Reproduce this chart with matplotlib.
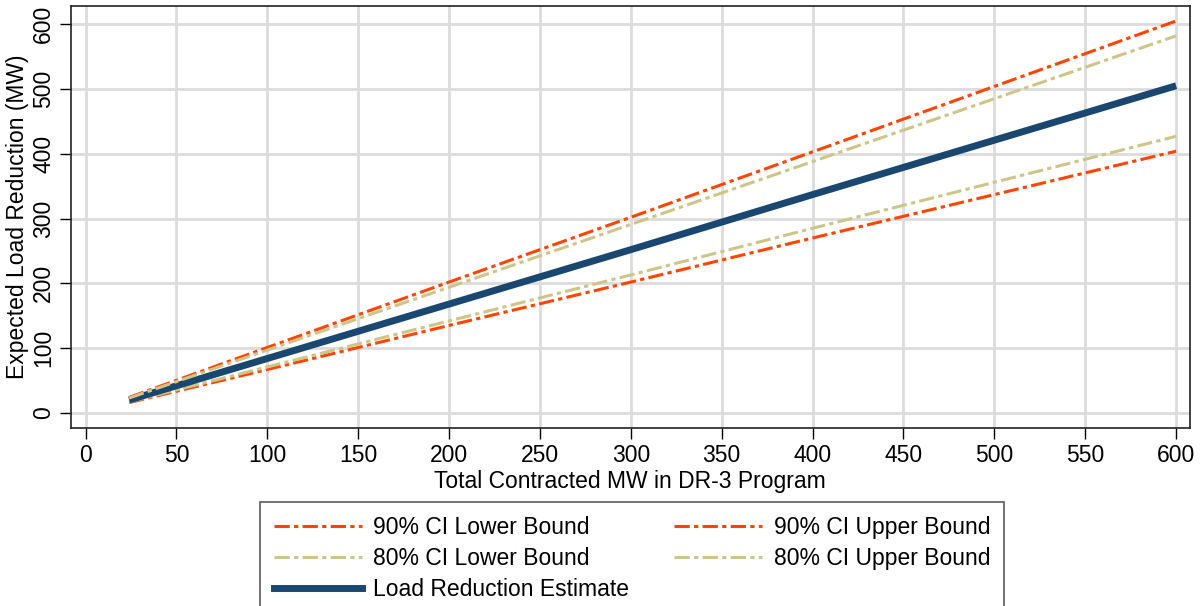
import matplotlib.pyplot as plt
from matplotlib.lines import Line2D

plt.rcParams['font.family'] = ['Liberation Sans', 'DejaVu Sans']

# total contracted MW and the expected load reduction (MW)
contracted = [24, 100, 200, 300, 400, 500, 600]
estimate = [20, 84, 168, 252, 337, 421, 505]
ci90_lower = [16, 67, 135, 202, 270, 337, 404]
ci90_upper = [24, 101, 202, 302, 403, 504, 605]
ci80_lower = [17, 71, 142, 213, 285, 356, 427]
ci80_upper = [23, 97, 194, 291, 388, 485, 582]

x_ticks = list(range(0, 601, 50))
y_ticks = list(range(0, 601, 100))

orange = '#FF4500'
khaki = '#CFC589'
navy = '#1A476F'
dashdot = (5, 1.4, 1.4, 1.4)
fs = 16.5

fig = plt.figure(figsize=(12.03, 6.06), dpi=100)
ax = fig.add_axes([0.059, 0.294, 0.930, 0.696])

ax.plot(contracted, ci90_lower, color=orange, lw=2.2, dashes=dashdot, label='90% CI Lower Bound')
ax.plot(contracted, ci80_lower, color=khaki, lw=2.2, dashes=dashdot, label='80% CI Lower Bound')
ax.plot(contracted, estimate, color=navy, lw=5, solid_capstyle='butt', label='Load Reduction Estimate')
ax.plot(contracted, ci90_upper, color=orange, lw=2.2, dashes=dashdot, label='90% CI Upper Bound')
ax.plot(contracted, ci80_upper, color=khaki, lw=2.2, dashes=dashdot, label='80% CI Upper Bound')

ax.set_xlim(-8, 607.5)
ax.set_ylim(-23, 628)
ax.set_xticks(x_ticks)
ax.set_yticks(y_ticks)
ax.tick_params(labelsize=fs, length=8, width=1, direction='out')
for lab in ax.get_yticklabels():
    lab.set_rotation(90)
    lab.set_va('center')
ax.grid(True, color='#DCDCDC', lw=2)
ax.set_axisbelow(True)
for sp in ax.spines.values():
    sp.set_color('#222222')
    sp.set_linewidth(1.2)

ax.set_xlabel('Total Contracted MW in DR-3 Program', fontsize=fs, labelpad=2)
ax.set_ylabel('Expected Load Reduction (MW)', fontsize=fs, labelpad=2)

# legend in Stata order: two columns, estimate alone on the last row
handles = [
    Line2D([], [], color=orange, lw=2.2, dashes=dashdot),
    Line2D([], [], color=orange, lw=2.2, dashes=dashdot),
    Line2D([], [], color=khaki, lw=2.2, dashes=dashdot),
    Line2D([], [], color=khaki, lw=2.2, dashes=dashdot),
    Line2D([], [], color=navy, lw=5),
    Line2D([], [], color='none', lw=0),
]
labels = ['90% CI Lower Bound', '90% CI Upper Bound',
          '80% CI Lower Bound', '80% CI Upper Bound',
          'Load Reduction Estimate', '']
# matplotlib fills legends column-wise, so reorder for row-wise reading
order = [0, 2, 4, 1, 3, 5]
leg = fig.legend([handles[i] for i in order], [labels[i] for i in order],
                 ncol=2, loc='upper left', bbox_to_anchor=(260 / 1203, 1 - 502 / 606),
                 fontsize=fs, frameon=True, fancybox=False, handlelength=3.85,
                 handletextpad=0.5, columnspacing=1.95, labelspacing=0.36,
                 borderpad=0.6, borderaxespad=0)
leg.get_frame().set_edgecolor('#333333')
leg.get_frame().set_linewidth(1.2)

fig.savefig('out.png', dpi=100)
